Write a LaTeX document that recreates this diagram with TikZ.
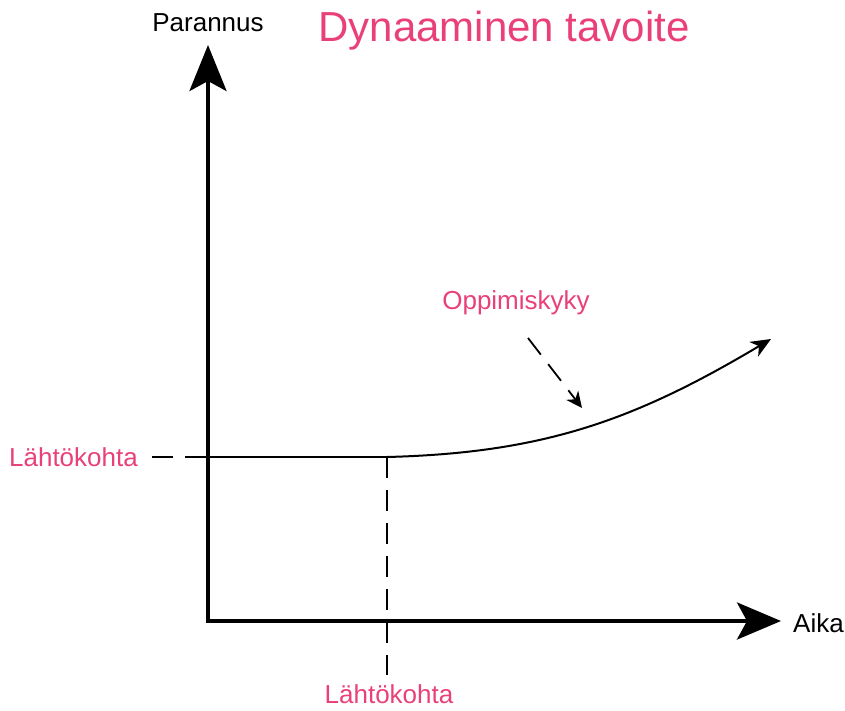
\documentclass[tikz,border=0pt]{standalone}
\usepackage{fontspec}
\setmainfont{Liberation Sans}
\usetikzlibrary{arrows.meta}
\definecolor{tavpink}{RGB}{233,64,122}
\begin{document}
\begin{tikzpicture}[x=1pt,y=-1pt,
        axis/.style={line width=4pt, {Stealth[length=46pt,width=37pt,inset=10pt]}-{Stealth[length=44pt,width=37pt,inset=10pt]}},
        axislabel/.style={text=black, font=\fontsize{26}{30}\selectfont, inner sep=0pt},
        pinklabel/.style={text=tavpink, font=\fontsize{26}{30}\selectfont, inner sep=0pt},
        guide/.style={line width=1.6pt, dash pattern=on 21pt off 12pt},
        baseline/.style={line width=1.6pt},
        growth/.style={line width=2pt, -{Stealth[length=20pt,width=17pt,inset=6pt]}},
        hint/.style={line width=1.8pt, dash pattern=on 21pt off 12pt, -{Stealth[length=16pt,width=15pt,inset=5pt]}}
    ]
        \useasboundingbox (0,0) rectangle (845,711);

        \node[pinklabel, font=\fontsize{42}{48}\selectfont] (title) at (504,31) {Dynaaminen tavoite};
        \node[axislabel] (parannus) at (208,23) {Parannus};
        \node[axislabel, anchor=west] (aika) at (793,623) {Aika};
        \node[pinklabel, anchor=east] (startleft) at (138,457) {Lähtökohta};
        \node[pinklabel] (startbottom) at (389,694) {Lähtökohta};
        \node[pinklabel] (oppimis) at (516,303) {Oppimiskyky};

        \coordinate (origin) at (208,621);
        \coordinate (ytip) at (208,45);
        \coordinate (xtip) at (781,621);
        \coordinate (yleft) at (208,457);
        \coordinate (start) at (387,457);
        \coordinate (startlow) at (387,675);
        \coordinate (curveend) at (771,339);
        \coordinate (hintfrom) at (528,338);
        \coordinate (hintto) at (582,408);

        % axes
        \draw[axis] (ytip) -- (origin) -- (xtip);

        % starting level
        \draw[guide] ([xshift=14pt]startleft.east) -- (yleft);
        \draw[baseline] (yleft) -- (start);
        \draw[guide] (start) -- (startlow);

        % growth curve
        \draw[growth] (start) .. controls (544,453) and (635,420) .. (curveend);
        \draw[hint] (hintfrom) -- (hintto);
    \end{tikzpicture}
\end{document}
